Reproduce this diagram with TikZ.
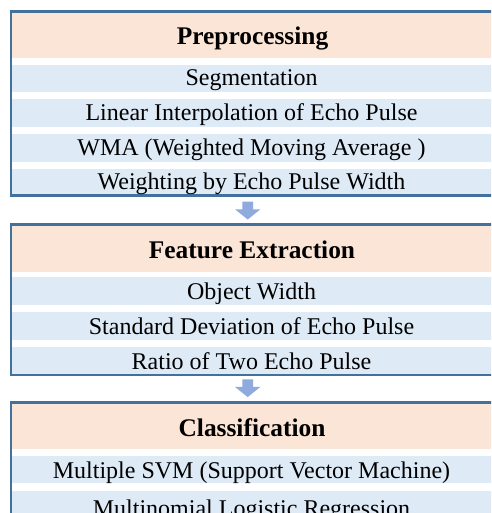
\documentclass[tikz,border=0pt]{standalone}
\usepackage{fontspec}
\setmainfont{Liberation Serif}
\definecolor{framecol}{HTML}{41719C}
\definecolor{headcol}{HTML}{FBE5D6}
\definecolor{rowcol}{HTML}{DEEBF7}
\definecolor{arrowcol}{HTML}{8FAADC}
\begin{document}
\begin{tikzpicture}[x=1pt,y=-1pt,
  headfill/.style={fill=headcol},
  rowfill/.style={fill=rowcol},
  frame/.style={draw=framecol,line width=2.8pt},
  headtext/.style={anchor=base,inner sep=0pt,font=\fontsize{25.4}{28}\selectfont\bfseries},
  rowtext/.style={anchor=base,inner sep=0pt,font=\fontsize{24}{28}\selectfont},
  blockarrow/.style={fill=arrowcol}]
\clip (0,0) rectangle (491,513);
\fill[white] (0,0) rectangle (491,513);

% --- Preprocessing block ---
\fill[headfill] (12,12) rectangle (500,58);
\fill[rowfill] (12,65) rectangle (500,92);
\fill[rowfill] (12,99) rectangle (500,127);
\fill[rowfill] (12,134) rectangle (500,162);
\fill[rowfill] (12,169) rectangle (500,195);
\draw[frame] (10.9,11.3) rectangle (498,195.6);
\node[headtext] (pre) at (252.5,45) {Preprocessing};
\node[rowtext] (seg) at (251.5,86) {Segmentation};
\node[rowtext] (lin) at (251.5,120.5) {Linear Interpolation of Echo Pulse};
\node[rowtext] (wma) at (251.5,156) {WMA (Weighted Moving Average )};
\node[rowtext] (wgt) at (251.5,189) {Weighting by Echo Pulse Width};

% --- Feature extraction block ---
\fill[headfill] (12,225) rectangle (500,272);
\fill[rowfill] (12,277) rectangle (500,305);
\fill[rowfill] (12,312) rectangle (500,340);
\fill[rowfill] (12,347) rectangle (500,374);
\draw[frame] (10.9,224.5) rectangle (498,375);
\node[headtext] (fea) at (252,258.5) {Feature Extraction};
\node[rowtext] (obj) at (251.5,299.5) {Object Width};
\node[rowtext] (std) at (251.5,334.5) {Standard Deviation of Echo Pulse};
\node[rowtext] (rat) at (251.5,369) {Ratio of Two Echo Pulse};

% --- Classification block ---
\fill[headfill] (12,403) rectangle (500,449);
\fill[rowfill] (12,456) rectangle (500,483);
\fill[rowfill] (12,491) rectangle (500,520);
\draw[frame] (10.9,402.5) rectangle (498,540);
\node[headtext] (cls) at (252,436) {Classification};
\node[rowtext] (svm) at (251.5,478) {Multiple SVM (Support Vector Machine)};
\node[rowtext] (mlr) at (251.5,516) {Multinomial Logistic Regression};

% --- block arrows between the stages ---
\coordinate (arrA) at (247.7,201.7);
\coordinate (arrB) at (247.7,379.3);
\foreach \a in {arrA,arrB}{
  \fill[blockarrow] (\a) ++(-5.3,0) -- ++(10.6,0) -- ++(0,7.6) -- ++(7.4,0)
    -- ++(-12.7,10.2) -- ++(-12.7,-10.2) -- ++(7.4,0) -- cycle;
}
\end{tikzpicture}
\end{document}
